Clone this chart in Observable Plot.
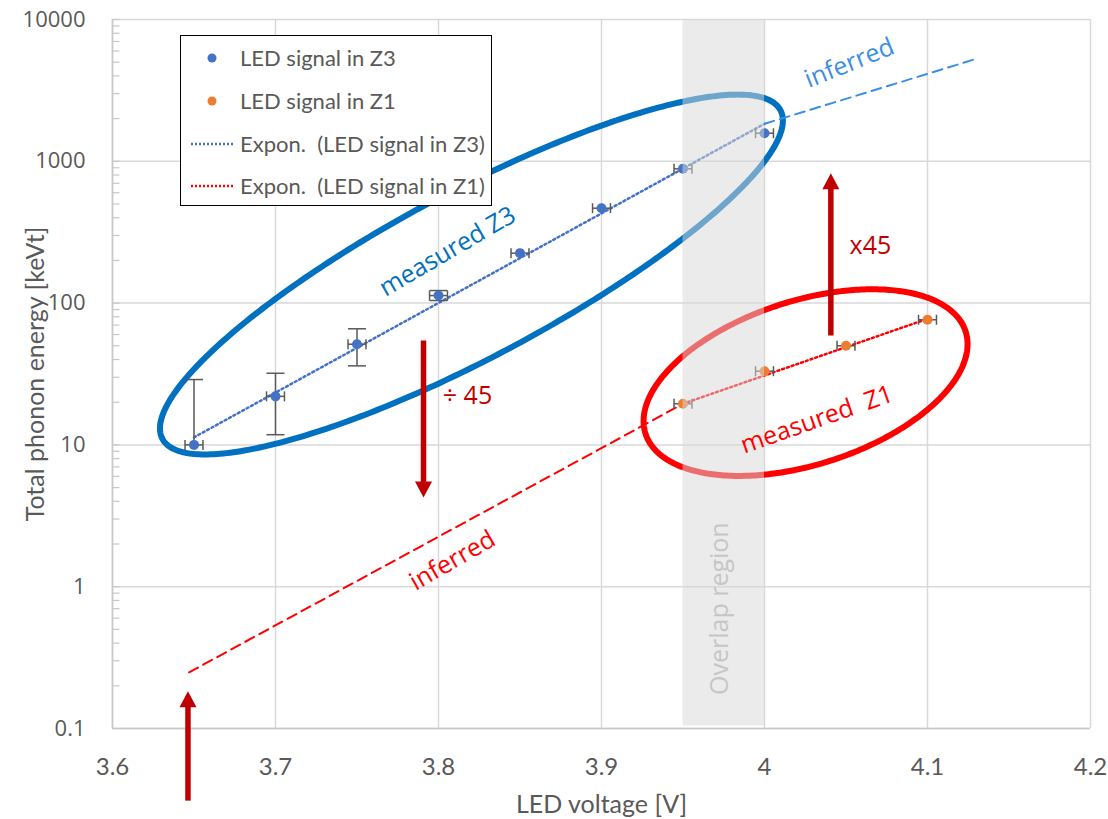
<!DOCTYPE html>
<html><head><meta charset="utf-8">
<script src="https://cdn.jsdelivr.net/npm/d3@7"></script>
<script src="https://cdn.jsdelivr.net/npm/@observablehq/plot@0.6"></script>
<style>
body{margin:0;background:#fff;}
#wrap{position:relative;width:1108px;height:819px;}
#legend{position:absolute;left:180px;top:35px;width:312px;height:171px;box-sizing:border-box;border:1.5px solid #000;background:#fff;font-family:Lato,sans-serif;font-size:22px;color:#595959;}
.item{position:absolute;left:0;height:30px;display:flex;align-items:center;white-space:pre;}
.item svg{position:absolute;left:0;top:0;}
.item span{position:absolute;left:59px;top:2px;line-height:26px;}
svg text{white-space:pre;}
</style></head><body><div id="wrap"><div id="legend"></div></div>
<script>
// ---------- data ----------
const xTicks = [3.6, 3.7, 3.8, 3.9, 4.0, 4.1, 4.2];
const yTicks = [0.1, 1, 10, 100, 1000, 10000];
const yTickLabels = ["0.1", "1", "10", "100", "1000", "10000"];

const z3Voltage = [3.65, 3.70, 3.75, 3.80, 3.85, 3.90, 3.95, 4.00];
const z3Energy  = [10.0, 22.0, 51.3, 113, 225, 467, 885, 1578];
const z3ErrHigh = [28.9, 32.0, 65.9, 122.6, null, null, null, null];
const z3ErrLow  = [null, 11.8, 36.1, 104.3, null, null, null, null];

const z1Voltage = [3.95, 4.00, 4.05, 4.10];
const z1Energy  = [19.5, 33.1, 50.0, 76.3];

const voltageErr = 0.0055;

// exponential trend lines (end points)
const trendZ3Voltage = [3.65, 4.00];
const trendZ3Energy  = [11.3, 1839];
const trendZ1Voltage = [3.95, 4.10];
const trendZ1Energy  = [19.5, 77.5];
// inferred extrapolations
const inferredZ3Voltage = [4.00, 4.13];
const inferredZ3Energy  = [1839, 5280];
const inferredZ1Voltage = [3.647, 3.95];
const inferredZ1Energy  = [0.249, 19.5];

const overlapRegion = [3.95, 4.00];

const legendLabels = ["LED signal in Z3", "LED signal in Z1", "Expon.  (LED signal in Z3)", "Expon.  (LED signal in Z1)"];

// annotations
const arrowX    = [3.7908, 4.0407, 3.6463];
const arrowFrom = [54.5, 59.1, 0.031];
const arrowTo   = [4.26, 824, 0.183];

const noteText  = ["measured Z3", "inferred", "inferred", "measured  Z1", "÷ 45", "x45"];
const noteX     = [3.8055, 4.0521, 3.8086, 4.0321, 3.8178, 4.065];
const noteY     = [231, 4920, 1.53, 15.07, 22.3, 254.7];
const noteAngle = [-30.2, -21.8, -30, -19.4, 0, 0];
const noteColor = ["#0070C0", "#3A8EE6", "#FF0000", "#FF0000", "#C00000", "#C00000"];

const ellipseCenterX = [3.8202, 4.0252];
const ellipseCenterY = [159, 27.5];

// ---------- layout ----------
const W = 1108, H = 819, mL = 112, mR = 18, mT = 19, mB = 91;
const xs = Plot.scale({x: {domain: [3.6, 4.2], range: [mL, W - mR]}});
const ys = Plot.scale({y: {type: "log", domain: [0.1, 10000], range: [H - mB, mT]}});

const ellipseShape = [
  {a: 350, b: 83, angle: 28, color: "#0070C0"},
  {a: 168, b: 82, angle: 17.7, color: "#FF0000"}
];

const z3 = z3Voltage.map((x, i) => ({x, y: z3Energy[i], hi: z3ErrHigh[i], lo: z3ErrLow[i]}));
const z1 = z1Voltage.map((x, i) => ({x, y: z1Energy[i]}));
const pts = (xv, yv) => xv.map((x, i) => ({x, y: yv[i]}));

function ellipsePts(k) {
  const e = ellipseShape[k];
  const cxp = xs.apply(ellipseCenterX[k]), cyp = ys.apply(ellipseCenterY[k]);
  const th = e.angle * Math.PI / 180, out = [];
  for (let i = 0; i <= 360; i++) {
    const t = 2 * Math.PI * i / 360;
    const px = cxp + e.a * Math.cos(t) * Math.cos(th) - e.b * Math.sin(t) * Math.sin(th);
    const py = cyp - (e.a * Math.cos(t) * Math.sin(th) + e.b * Math.sin(t) * Math.cos(th));
    out.push({x: xs.invert(px), y: ys.invert(py)});
  }
  return out;
}

// arrow heads as custom symbols (pixel-sized triangles)
const headLen = 16, headHalf = 8.5;
const triUp = {draw(ctx) { ctx.moveTo(0, -headLen / 2); ctx.lineTo(headHalf, headLen / 2); ctx.lineTo(-headHalf, headLen / 2); ctx.closePath(); }};
const triDown = {draw(ctx) { ctx.moveTo(0, headLen / 2); ctx.lineTo(headHalf, -headLen / 2); ctx.lineTo(-headHalf, -headLen / 2); ctx.closePath(); }};
const shafts = [], headsUp = [], headsDown = [];
arrowX.forEach((x, i) => {
  const fp = ys.apply(arrowFrom[i]), tp = ys.apply(arrowTo[i]);
  const s = fp > tp ? 1 : -1;
  shafts.push({x, y1: arrowFrom[i], y2: ys.invert(tp + s * (headLen - 2))});
  const mid = {x, y: ys.invert(tp + s * headLen / 2)};
  (s > 0 ? headsUp : headsDown).push(mid);
});

// error bars
const errGray = "#595959";
const capH = 5, capW = 9;
const hBars = [...z3, ...z1];
const vBars = z3.filter(d => d.hi != null || d.lo != null).map(d => ({x: d.x, y1: d.lo ?? d.y, y2: d.hi ?? d.y}));
const vCaps = [];
z3.forEach(d => { if (d.hi != null) vCaps.push({x: d.x, y: d.hi}); if (d.lo != null) vCaps.push({x: d.x, y: d.lo}); });
const hCaps = [];
hBars.forEach(d => { const yp = ys.apply(d.y); [-1, 1].forEach(s => hCaps.push({x: d.x + s * voltageErr, y1: ys.invert(yp - capH), y2: ys.invert(yp + capH)})); });

const minorTicks = [];
for (let e = -1; e < 4; e++) for (let m = 1; m <= 9; m++) minorTicks.push(m * 10 ** e);
minorTicks.push(10000);

const marks = [
  Plot.ruleX(xTicks, {stroke: "#d9d9d9", strokeWidth: 1.5}),
  Plot.ruleY(yTicks, {stroke: "#d9d9d9", strokeWidth: 1.5}),
  Plot.ruleX([3.6], {stroke: "#c8c8c8", strokeWidth: 1.5}),
  Plot.ruleY([0.1], {stroke: "#c8c8c8", strokeWidth: 1.5}),
  Plot.link(minorTicks, {x1: () => 3.6, x2: () => xs.invert(mL + 7), y1: d => d, y2: d => d, stroke: "#c8c8c8", strokeWidth: 1.2}),
  Plot.axisX(xTicks, {tickSize: 0, tickPadding: 29, tickFormat: d => String(d), fontSize: 24, fontFamily: "Lato", color: "#595959", label: null}),
  Plot.axisY(yTicks, {tickSize: 0, tickPadding: 27, tickFormat: d => yTickLabels[yTicks.indexOf(d)], fontSize: 22, fontFamily: "Open Sans", color: "#595959", label: null}),
  Plot.text(["Total phonon energy [keVt]"], {frameAnchor: "left", dx: -77, rotate: -90, textAnchor: "middle", lineAnchor: "middle", fontSize: 25, fontFamily: "Lato", fill: "#595959"}),
  Plot.text(["LED voltage [V]"], {frameAnchor: "bottom", dy: 76, textAnchor: "middle", lineAnchor: "middle", fontSize: 25, fontFamily: "Lato", fill: "#595959"}),
  // ellipses
  Plot.line(ellipsePts(0), {x: "x", y: "y", stroke: ellipseShape[0].color, strokeWidth: 6}),
  Plot.line(ellipsePts(1), {x: "x", y: "y", stroke: ellipseShape[1].color, strokeWidth: 6}),
  // trend lines
  Plot.line(pts(trendZ3Voltage, trendZ3Energy), {x: "x", y: "y", stroke: "#4472C4", strokeWidth: 2.5, strokeDasharray: "2 3"}),
  Plot.line(pts(trendZ1Voltage, trendZ1Energy), {x: "x", y: "y", stroke: "#FF0000", strokeWidth: 2.5, strokeDasharray: "2 3"}),
  Plot.line(pts(inferredZ3Voltage, inferredZ3Energy), {x: "x", y: "y", stroke: "#3A8EE6", strokeWidth: 2, strokeDasharray: "10 6"}),
  Plot.line(pts(inferredZ1Voltage, inferredZ1Energy), {x: "x", y: "y", stroke: "#FF0000", strokeWidth: 2, strokeDasharray: "10 6"}),
  // error bars
  Plot.link(vBars, {x1: "x", x2: "x", y1: "y1", y2: "y2", stroke: errGray, strokeWidth: 1.5}),
  Plot.link(vCaps, {x1: d => d.x - capW / 1630, x2: d => d.x + capW / 1630, y1: "y", y2: "y", stroke: errGray, strokeWidth: 1.5}),
  Plot.link(hBars, {x1: d => d.x - voltageErr, x2: d => d.x + voltageErr, y1: "y", y2: "y", stroke: errGray, strokeWidth: 1.5}),
  Plot.link(hCaps, {x1: "x", x2: "x", y1: "y1", y2: "y2", stroke: errGray, strokeWidth: 1.5}),
  // points
  Plot.dot(z3, {x: "x", y: "y", r: 5, fill: "#4472C4"}),
  Plot.dot(z1, {x: "x", y: "y", r: 5, fill: "#ED7D31"}),
  // arrows
  Plot.link(shafts, {x1: "x", x2: "x", y1: "y1", y2: "y2", stroke: "#C00000", strokeWidth: 5.5, ariaLabel: "arrow"}),
  Plot.dot(headsUp, {x: "x", y: "y", r: 8, symbol: triUp, fill: "#C00000", stroke: "none", ariaLabel: "arrow"}),
  Plot.dot(headsDown, {x: "x", y: "y", r: 8, symbol: triDown, fill: "#C00000", stroke: "none", ariaLabel: "arrow"}),
  // overlap region (translucent, on top)
  Plot.rect([overlapRegion], {x1: d => d[0], x2: d => d[1], y1: () => 0.1, y2: () => 10000, insetBottom: 2.5, fill: "rgb(216,216,216)", fillOpacity: 0.51}),
  Plot.text(["Overlap region"], {x: () => 3.973, y: () => 0.70, rotate: -90, fontSize: 25, fontFamily: "Open Sans", fill: "#c6c6c6"})
];
noteText.forEach((t, i) => {
  marks.push(Plot.text([t], {x: () => noteX[i], y: () => noteY[i], rotate: noteAngle[i], fontSize: 25, fontFamily: "Open Sans", fill: noteColor[i]}));
});

const chart = Plot.plot({
  width: W, height: H,
  marginLeft: mL, marginRight: mR, marginTop: mT, marginBottom: mB,
  x: {domain: [3.6, 4.2]},
  y: {type: "log", domain: [0.1, 10000]},
  style: {fontFamily: "Open Sans", background: "#fff", overflow: "visible"},
  marks
});
chart.querySelectorAll('g[aria-label="arrow"]').forEach(g => g.style.filter = "drop-shadow(2px 3px 2px rgba(0,0,0,0.3))");
const wrap = document.getElementById("wrap");
wrap.insertBefore(chart, wrap.firstChild);
chart.style.position = "absolute"; chart.style.left = "0"; chart.style.top = "0";

// legend
const legend = document.getElementById("legend");
const legendY = [22, 65, 108, 150];
const legendSym = [
  '<circle cx="31" cy="15" r="4.5" fill="#4472C4"/>',
  '<circle cx="31" cy="15" r="4.5" fill="#ED7D31"/>',
  '<line x1="10" x2="52" y1="15" y2="15" stroke="#4472C4" stroke-width="2.5" stroke-dasharray="2 2"/>',
  '<line x1="10" x2="52" y1="15" y2="15" stroke="#FF0000" stroke-width="2.5" stroke-dasharray="2 2"/>'
];
legendLabels.forEach((lab, i) => {
  const d = document.createElement("div");
  d.className = "item";
  d.style.top = (legendY[i] - 15) + "px";
  d.style.width = "300px";
  d.innerHTML = `<svg width="60" height="30">${legendSym[i]}</svg><span></span>`;
  d.querySelector("span").textContent = lab;
  legend.appendChild(d);
});
</script></body></html>
